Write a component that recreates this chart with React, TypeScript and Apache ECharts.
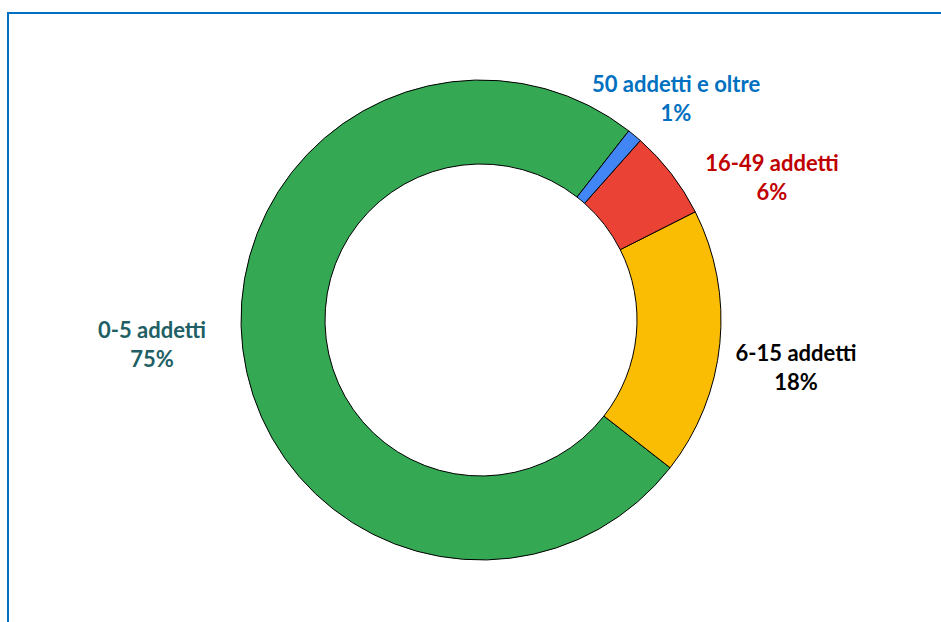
import React, { useEffect, useRef } from 'react';
import * as echarts from 'echarts';

const categories = ['0-5 addetti', '6-15 addetti', '16-49 addetti', '50 addetti e oltre'];
const shares = [75, 18, 6, 1];
const sliceColors = ['#34A853', '#FBBC04', '#EA4335', '#4285F4'];
const labelColors = ['#215F65', '#000000', '#C00000', '#0070C0'];
const labelCenters: number[][] = [
  [152, 344],
  [796, 367],
  [772, 177],
  [676, 98],
];

export default function App() {
  const ref = useRef<HTMLDivElement>(null);

  useEffect(() => {
    if (!ref.current) return;
    const chart = echarts.init(ref.current, undefined, { renderer: 'svg' });
    chart.setOption({
      animation: false,
      backgroundColor: 'transparent',
      series: [
        {
          type: 'pie',
          center: [481, 320],
          radius: [156, 240],
          startAngle: 52,
          clockwise: false,
          avoidLabelOverlap: false,
          itemStyle: { borderColor: '#000000', borderWidth: 1 },
          label: {
            show: true,
            position: 'outside',
            formatter: '{b}\n{d}%',
            fontFamily: 'Lato',
            fontWeight: 'bold',
            fontSize: 22,
            lineHeight: 29,
            align: 'center',
          },
          labelLine: { show: false },
          labelLayout: (params: any) => {
            const p = labelCenters[params.dataIndex];
            return { x: p[0], y: p[1], align: 'center', verticalAlign: 'middle' };
          },
          emphasis: { disabled: true },
          data: categories.map((name, i) => ({
            name,
            value: shares[i],
            itemStyle: { color: sliceColors[i] },
            label: { color: labelColors[i] },
          })),
        },
      ],
    });
    return () => chart.dispose();
  }, []);

  return (
    <div
      style={{
        position: 'fixed',
        left: 0,
        top: 0,
        width: 941,
        height: 622,
        overflow: 'hidden',
        background: '#ffffff',
      }}
    >
      <div
        style={{
          position: 'absolute',
          left: 7,
          top: 12,
          width: 1100,
          height: 800,
          border: '2px solid #0070C0',
          boxSizing: 'border-box',
        }}
      />
      <div
        ref={ref}
        style={{ position: 'absolute', left: 0, top: 0, width: 941, height: 622 }}
      />
    </div>
  );
}
